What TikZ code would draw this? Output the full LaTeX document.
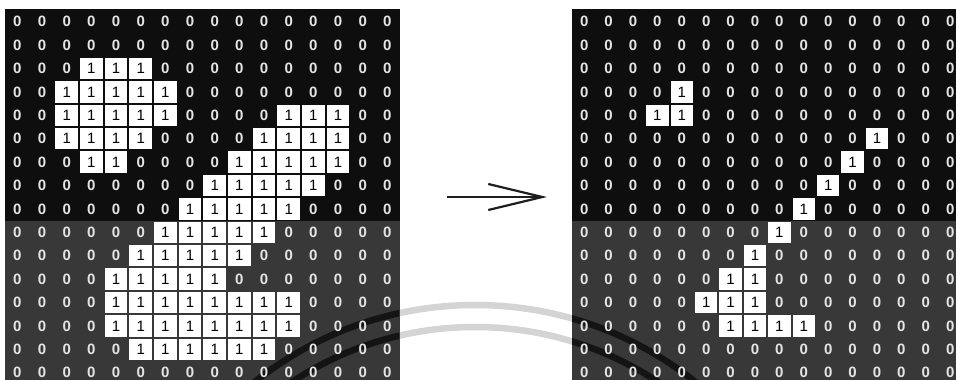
\documentclass[tikz,border=0pt]{standalone}
\usepackage{fontspec}
\setmainfont{Liberation Sans}
\usetikzlibrary{arrows.meta}
\definecolor{topbg}{HTML}{0E0E0E}
\definecolor{botbg}{HTML}{383838}
\definecolor{zerocol}{HTML}{E4E4E4}
\definecolor{wmlight}{HTML}{D4D4D4}
\definecolor{wmdark}{HTML}{141414}
\definecolor{arrowcol}{HTML}{1E1E1E}
\newcommand\markrange[4]{\foreach \cc in {#3,...,#4}{\expandafter\gdef\csname one#1-#2-\cc\endcsname{}}}
% left grid
\markrange{L}{2}{3}{5}
\markrange{L}{3}{2}{6}
\markrange{L}{4}{2}{6}\markrange{L}{4}{11}{13}
\markrange{L}{5}{2}{5}\markrange{L}{5}{10}{13}
\markrange{L}{6}{3}{4}\markrange{L}{6}{9}{13}
\markrange{L}{7}{8}{12}
\markrange{L}{8}{7}{11}
\markrange{L}{9}{6}{10}
\markrange{L}{10}{5}{9}
\markrange{L}{11}{4}{8}
\markrange{L}{12}{4}{11}
\markrange{L}{13}{4}{11}
\markrange{L}{14}{5}{10}
% right grid
\markrange{R}{3}{4}{4}
\markrange{R}{4}{3}{4}
\markrange{R}{5}{12}{12}
\markrange{R}{6}{11}{11}
\markrange{R}{7}{10}{10}
\markrange{R}{8}{9}{9}
\markrange{R}{9}{8}{8}
\markrange{R}{10}{7}{7}
\markrange{R}{11}{6}{7}
\markrange{R}{12}{5}{7}
\markrange{R}{13}{6}{9}
\tikzset{
  zero/.style={text=zerocol, font=\fontsize{15}{15}\selectfont\bfseries, inner sep=0pt},
  one/.style={text=black, font=\fontsize{15}{15}\selectfont, inner sep=0pt},
  onecell/.style={fill=white, draw=none},
  wmband/.style={line width=6.5pt},
}
\begin{document}
\begin{tikzpicture}[x=1pt,y=-1pt]
\useasboundingbox (0,0) rectangle (956,380);
\fill[white] (0,0) rectangle (956,380);
\clip (0,0) rectangle (956,380);
% backgrounds
\fill[topbg] (5,9) rectangle (399.7,220.6);
\fill[botbg] (5,220.6) rectangle (399.7,384.4);
\fill[topbg] (572,9) rectangle (962.4,220.6);
\fill[botbg] (572,220.6) rectangle (962.4,384.4);
% watermark arcs
\begin{scope}
  \clip (399.7,0) rectangle (572,380);
  \draw[wmlight,wmband] (475,659) circle[radius=354];
  \draw[wmlight,wmband] (475,659) circle[radius=332];
\end{scope}
\begin{scope}
  \clip (5,220.6) rectangle (399.7,380) (572,220.6) rectangle (962.4,380);
  \draw[wmdark,wmband] (475,659) circle[radius=354];
  \draw[wmdark,wmband] (475,659) circle[radius=332];
\end{scope}
% grids
\foreach \g/\xo/\dx in {L/5/24.67, R/572/24.4}{
  \foreach \r in {0,...,15}{
    \foreach \c in {0,...,15}{
      \pgfmathsetmacro\xx{\xo+\dx*(\c+0.5)}
      \pgfmathsetmacro\yy{10+23.4*(\r+0.5)}
      \pgfmathsetmacro\hw{\dx/2-1}
      \ifcsname one\g-\r-\c\endcsname
        \fill[onecell] (\xx-\hw,\yy-10.7) rectangle (\xx+\hw,\yy+10.7);
        \node[one] (\g-\r-\c) at (\xx,\yy) {1};
      \else
        \node[zero] (\g-\r-\c) at (\xx,\yy) {0};
      \fi
    }
  }
}
% arrow
\coordinate (arrS) at (447,197);
\coordinate (arrE) at (547,197);
\draw[arrowcol, line width=2.2pt, -{Straight Barb[length=54pt,width=26pt,line width=2.2pt]}] (arrS) -- (arrE);
\end{tikzpicture}
\end{document}
